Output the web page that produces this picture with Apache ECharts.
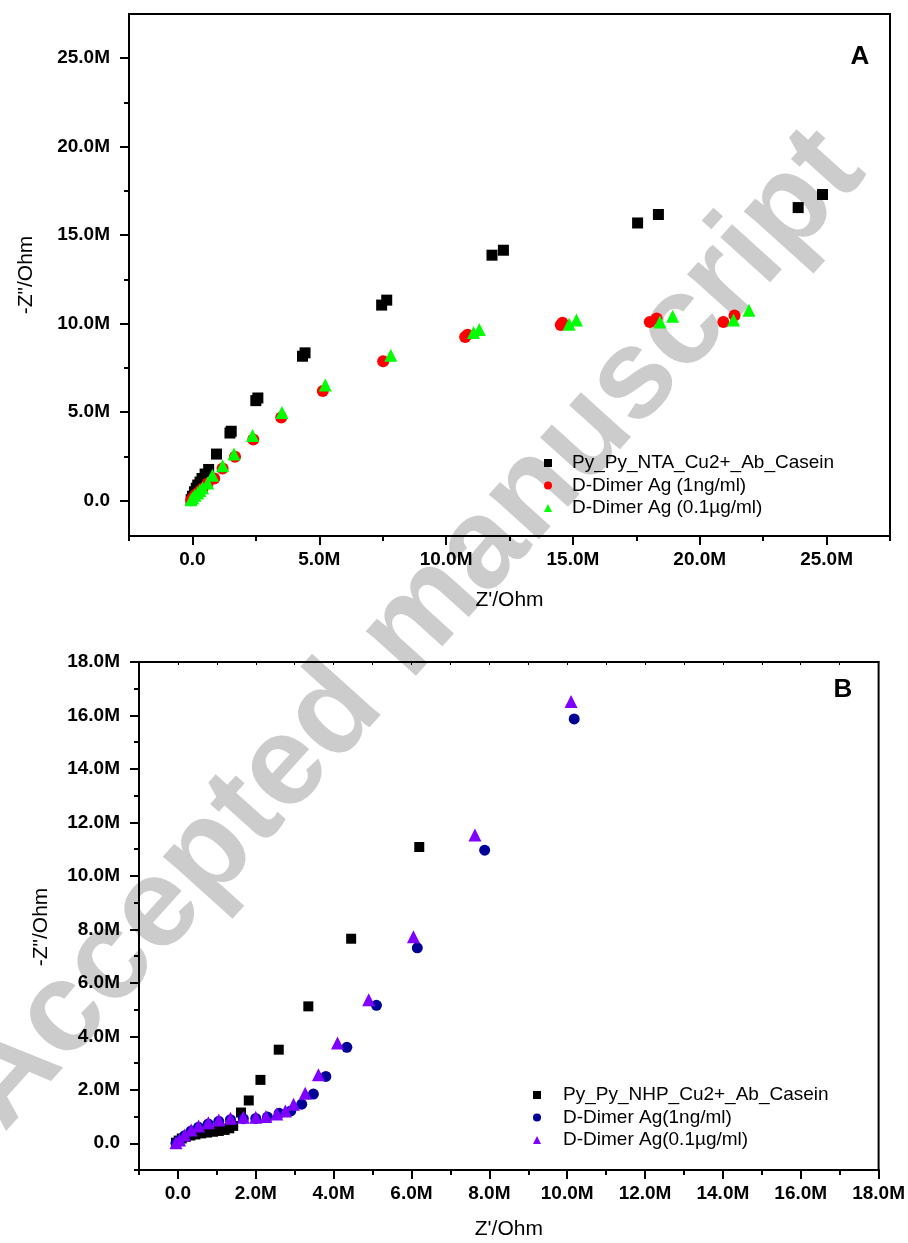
<!DOCTYPE html>
<html>
<head>
<meta charset="utf-8">
<script src="https://cdn.jsdelivr.net/npm/echarts@6/dist/echarts.min.js"></script>
<style>
  html, body { margin: 0; padding: 0; background: #fff; }
  #chart { width: 908px; height: 1243px; }
</style>
</head>
<body>
<div id="chart"></div>
<script>
// values in MOhm, [Z', -Z'']
const aNames = ['Py_Py_NTA_Cu2+_Ab_Casein', 'D-Dimer Ag (1ng/ml)', 'D-Dimer Ag (0.1µg/ml)']
const aCasein = [[-0.05, 0.05], [0.0, 0.25], [0.08, 0.5], [0.15, 0.7], [0.21, 0.88], [0.3, 1.05], [0.38, 1.25],
  [0.5, 1.5], [0.64, 1.76], [0.95, 2.63], [1.48, 3.82], [1.53, 3.92], [2.5, 5.65], [2.58, 5.8],
  [4.34, 8.16], [4.44, 8.35], [7.46, 11.05], [7.66, 11.33], [11.81, 13.87], [12.26, 14.15],
  [17.55, 15.69], [18.37, 16.17], [23.88, 16.56], [24.84, 17.3]]
const a1ng = [[-0.05, 0.02], [0.01, 0.14], [0.1, 0.3], [0.21, 0.41], [0.3, 0.55], [0.4, 0.69], [0.6, 0.97],
  [0.86, 1.25], [1.19, 1.82], [1.68, 2.48], [2.4, 3.46], [3.5, 4.7], [5.14, 6.2], [7.52, 7.88],
  [10.75, 9.25], [10.85, 9.38], [14.52, 9.92], [14.59, 10.05], [18.03, 10.1], [18.3, 10.29],
  [20.93, 10.1], [21.37, 10.46]]
const a01ug = [[-0.05, 0.05], [0.01, 0.16], [0.1, 0.3], [0.21, 0.43], [0.3, 0.57], [0.4, 0.72], [0.6, 1.0],
  [0.79, 1.44], [1.19, 1.97], [1.64, 2.63], [2.37, 3.68], [3.53, 4.98], [5.24, 6.53], [7.82, 8.22],
  [11.08, 9.5], [11.31, 9.67], [14.85, 9.97], [15.14, 10.2], [18.43, 10.1], [18.93, 10.42],
  [21.33, 10.2], [21.94, 10.76]]

const bNames = ['Py_Py_NHP_Cu2+_Ab_Casein', 'D-Dimer Ag(1ng/ml)', 'D-Dimer Ag(0.1µg/ml)']
const bCasein = [[-0.05, 0.02], [0.02, 0.1], [0.1, 0.18], [0.2, 0.24], [0.32, 0.29], [0.45, 0.33], [0.6, 0.37],
  [0.75, 0.4], [0.9, 0.43], [1.05, 0.46], [1.2, 0.5], [1.32, 0.56], [1.42, 0.65], [1.62, 1.15],
  [1.82, 1.6], [2.12, 2.37], [2.59, 3.5], [3.35, 5.12], [4.45, 7.65], [6.2, 11.08]]
const b1ng = [[-0.05, 0.0], [0.04, 0.1], [0.17, 0.28], [0.34, 0.46], [0.53, 0.6], [0.78, 0.72], [1.05, 0.82],
  [1.35, 0.88], [1.68, 0.92], [2.0, 0.93], [2.3, 0.98], [2.6, 1.12], [2.9, 1.21], [3.18, 1.46],
  [3.48, 1.84], [3.8, 2.5], [4.34, 3.59], [5.1, 5.16], [6.15, 7.31], [7.88, 10.96], [10.18, 15.87]]
const b01ug = [[-0.05, 0.02], [0.04, 0.12], [0.17, 0.31], [0.34, 0.5], [0.53, 0.65], [0.78, 0.77], [1.05, 0.87],
  [1.35, 0.94], [1.68, 0.97], [2.0, 0.97], [2.26, 1.0], [2.54, 1.09], [2.76, 1.21], [2.97, 1.46],
  [3.27, 1.87], [3.61, 2.56], [4.1, 3.75], [4.9, 5.37], [6.05, 7.72], [7.63, 11.53], [10.1, 16.52]]

// tick positions (MOhm)
const aMajor = [0, 5, 10, 15, 20, 25]
const aMinorX = [-2.5, 2.5, 7.5, 12.5, 17.5, 22.5, 27.5]
const aMinorY = [2.5, 7.5, 12.5, 17.5, 22.5]
const bMajor = [0, 2, 4, 6, 8, 10, 12, 14, 16, 18]
const bMinor = [-1, 1, 3, 5, 7, 9, 11, 13, 15, 17]
const bTop = [-1, 0, 1, 2, 3, 4, 5, 6, 7, 8, 9, 10, 11, 12, 13, 14, 15, 16, 17, 18]

const FONT = 'Arial, "Liberation Sans", sans-serif'
const M = 1e6
const toOhm = pts => pts.map(p => [p[0] * M, p[1] * M])
const toTicks = vals => vals.map(v => v * M)
const fmt = v => (v === 0 ? '0.0' : (v / M).toFixed(1) + 'M')

function tickLabels(ticks, margin) {
  return {
    customValues: toTicks(ticks),
    formatter: fmt,
    color: '#000',
    fontFamily: FONT,
    fontWeight: 'bold',
    fontSize: 19,
    margin
  }
}

function majorAxis(gridIndex, min, max, ticks, extra) {
  return Object.assign({
    type: 'value',
    gridIndex,
    min: min * M,
    max: max * M,
    splitLine: { show: false },
    axisLine: { show: true, onZero: false, lineStyle: { color: '#000', width: 2 } },
    axisTick: { show: true, length: 9, customValues: toTicks(ticks), lineStyle: { color: '#000', width: 2 } },
    axisLabel: tickLabels(ticks, 14),
    nameLocation: 'middle',
    nameTextStyle: { color: '#000', fontFamily: FONT, fontSize: 21 }
  }, extra)
}

function minorAxis(gridIndex, min, max, ticks, extra) {
  return Object.assign({
    type: 'value',
    gridIndex,
    min: min * M,
    max: max * M,
    splitLine: { show: false },
    axisLine: { show: true, onZero: false, lineStyle: { color: '#000', width: 2 } },
    axisTick: { show: true, length: 5, customValues: toTicks(ticks), lineStyle: { color: '#000', width: 2 } },
    axisLabel: { show: false }
  }, extra)
}

function scatter(name, data, xi, symbol, size, color) {
  return {
    type: 'scatter',
    name,
    xAxisIndex: xi,
    yAxisIndex: xi === 0 ? 0 : 2,
    data: toOhm(data),
    symbol,
    symbolSize: size,
    itemStyle: { color, opacity: 1 },
    emphasis: { disabled: true }
  }
}

function legendAt(names, left, top, pad) {
  return {
    data: names,
    orient: 'vertical',
    left,
    top,
    padding: 0,
    itemWidth: 8,
    itemHeight: 8,
    itemGap: 0.5,
    selectedMode: false,
    textStyle: { color: '#000', fontFamily: FONT, fontSize: 19, lineHeight: 22, padding: [0, 0, 0, pad] }
  }
}

const chart = echarts.init(document.getElementById('chart'))

const option = {
  backgroundColor: '#fff',
  animation: false,
  grid: [
    { left: 129, top: 14, width: 761, height: 522, show: true, borderColor: '#000', borderWidth: 2 },
    { left: 139, top: 662, width: 741, height: 508, show: true, borderColor: '#000', borderWidth: 2 }
  ],
  xAxis: [
    majorAxis(0, -2.5, 27.5, aMajor, { position: 'bottom', name: "Z'/Ohm", nameGap: 54 }),
    minorAxis(0, -2.5, 27.5, aMinorX, { position: 'bottom' }),
    majorAxis(1, -1, 18, bMajor, { position: 'bottom', name: "Z'/Ohm", nameGap: 49 }),
    minorAxis(1, -1, 18, bMinor, { position: 'bottom' }),
    minorAxis(1, -1, 18, bTop, { position: 'top', axisTick: { show: true, inside: true, length: 3, customValues: toTicks(bTop), lineStyle: { color: '#000', width: 1 } } })
  ],
  yAxis: [
    majorAxis(0, -2, 27.5, aMajor, { position: 'left', name: '-Z"/Ohm', nameGap: 92, axisLabel: tickLabels(aMajor, 19) }),
    minorAxis(0, -2, 27.5, aMinorY, { position: 'left' }),
    majorAxis(1, -1, 18, bMajor, {
      position: 'left', name: '-Z"/Ohm', nameGap: 87, axisLabel: tickLabels(bMajor, 19),
      nameTextStyle: { color: '#000', fontFamily: FONT, fontSize: 21, padding: [0, 22, 0, 0] }
    }),
    minorAxis(1, -1, 18, bMinor, { position: 'left' })
  ],
  legend: [
    legendAt(aNames, 544, 452, 15),
    legendAt(bNames, 533, 1084, 17)
  ],
  graphic: [
    {
      type: 'text',
      z: -10,
      x: 410,
      y: 630,
      rotation: 48 * Math.PI / 180,
      style: {
        text: 'Accepted manuscript',
        fill: '#cccccc',
        font: 'bold 127px ' + FONT,
        align: 'center',
        verticalAlign: 'middle'
      }
    },
    { type: 'text', x: 860, y: 57, style: { text: 'A', fill: '#000', font: 'bold 26px ' + FONT, align: 'center', verticalAlign: 'middle' } },
    { type: 'text', x: 843, y: 690, style: { text: 'B', fill: '#000', font: 'bold 26px ' + FONT, align: 'center', verticalAlign: 'middle' } }
  ],
  series: [
    scatter(aNames[0], aCasein, 0, 'rect', 11, '#000000'),
    scatter(aNames[1], a1ng, 0, 'circle', 12, '#ff0000'),
    scatter(aNames[2], a01ug, 0, 'triangle', 13, '#00ff00'),
    scatter(bNames[0], bCasein, 2, 'rect', 10, '#000000'),
    scatter(bNames[1], b1ng, 2, 'circle', 11, '#000099'),
    scatter(bNames[2], b01ug, 2, 'triangle', 13, '#8000ff')
  ]
}

chart.setOption(option)
</script>
</body>
</html>
